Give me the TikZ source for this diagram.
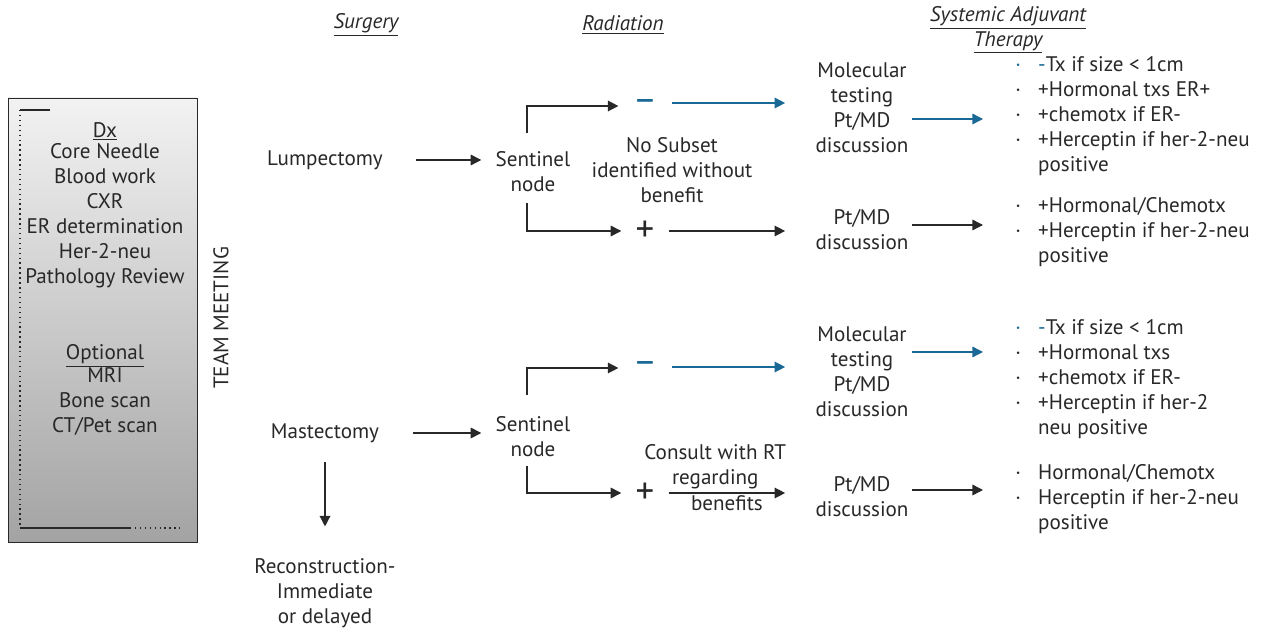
\documentclass[tikz,border=0pt]{standalone}
\usepackage{fontspec}
\setmainfont{PT Sans}
\usetikzlibrary{arrows.meta,calc}
\definecolor{ink}{RGB}{40,40,40}
\definecolor{tealblue}{RGB}{26,104,150}
\newcommand{\bul}{\makebox[13pt][l]{\textperiodcentered}}
\tikzset{
  txt/.style={font=\fontsize{12}{14.2}\selectfont, text=ink, align=center, inner sep=0pt},
  head/.style={txt, font=\fontsize{12}{14.2}\selectfont\itshape},
  lst/.style={txt, align=left, anchor=west},
  sign/.style={inner sep=0pt, text=ink, font=\fontsize{21}{21}\selectfont},
  arr/.style={draw=ink, line width=0.8pt, -{Triangle[length=6pt,width=6pt]}},
  barr/.style={arr, draw=tealblue}
}
\begin{document}
\begin{tikzpicture}[x=0.02cm, y=-0.02cm]
\useasboundingbox (0,0) rectangle (1262,631);
\shadedraw[draw=ink, top color=black!5, bottom color=black!36] (8,98) rectangle (197,542);
\draw[ink, line width=0.8pt] (50,110) -- (20,110);
\draw[ink, dotted, line width=0.8pt] (20,110) -- (20,528);
\draw[ink, line width=0.8pt] (20,528) -- (130,528);
\draw[ink, dotted, line width=0.8pt] (130,528) -- (180,528);
\node[txt] (dx) at (105,205) {\underline{Dx}\\[-2pt]Core Needle\\Blood work\\CXR\\ER determination\\Her-2-neu\\Pathology Review};
\node[txt] (opt) at (105,390) {\underline{Optional}\\[-1pt]MRI\\Bone scan\\CT/Pet scan};
\node[txt, rotate=90] (team) at (221,318) {TEAM MEETING};

\node[head] (surg) at (366,25) {\underline{Surgery}};
\node[head] (rad) at (623,25) {\underline{Radiation}};
\node[head] (sys) at (1008,30) {\underline{Systemic Adjuvant}\\\underline{Therapy}};

\node[txt] (lump) at (325,160) {Lumpectomy};
\node[txt] (mast) at (325,433) {Mastectomy};
\node[txt] (recon) at (325,593) {Reconstruction-\\Immediate\\or delayed};
\node[txt] (sn1) at (533,172) {Sentinel\\node};
\node[txt] (sn2) at (533,437) {Sentinel\\node};

\node[sign, text=tealblue] (neg1) at (645,106) {--};
\node[sign] (pos1) at (645,231) {+};
\node[sign, text=tealblue] (neg2) at (645,368) {--};
\node[sign] (pos2) at (645,493) {+};
\node[txt] (nosub) at (672,170) {No Subset\\identified without\\benefit};

\node[txt] (mol1) at (862,108) {Molecular\\testing\\Pt/MD\\discussion};
\node[txt] (pt1) at (862,230) {Pt/MD\\discussion};
\node[txt] (mol2) at (862,372) {Molecular\\testing\\Pt/MD\\discussion};
\node[txt] (pt2) at (862,497) {Pt/MD\\discussion};

\node[lst] (lst1) at (1015,116) {\textcolor{tealblue}{\bul-}Tx if size < 1cm\\\bul+Hormonal txs ER+\\\bul+chemotx if ER-\\\bul+Herceptin if her-2-neu\\\hspace*{13pt}positive};
\node[lst] (lst2) at (1015,232) {\bul+Hormonal/Chemotx\\\bul+Herceptin if her-2-neu\\\hspace*{13pt}positive};
\node[lst] (lst3) at (1015,379) {\textcolor{tealblue}{\bul-}Tx if size < 1cm\\\bul+Hormonal txs\\\bul+chemotx if ER-\\\bul+Herceptin if her-2\\\hspace*{13pt}neu positive};
\node[lst] (lst4) at (1015,499) {\bul Hormonal/Chemotx\\\bul Herceptin if her-2-neu\\\hspace*{13pt}positive};

\draw[arr, shorten <=19pt, shorten >=8pt] (lump.east) -- (lump.east -| sn1.west);
\draw[arr, shorten <=19pt, shorten >=8pt] (mast.east) -- (mast.east -| sn2.west);
\draw[arr, shorten <=11pt, shorten >=18pt] (mast.south) -- (recon.north);

\draw[arr, shorten >=8pt] ($(sn1.north)+(-6,-19)$) |- (neg1.west);
\draw[arr, shorten >=8pt] ($(sn1.south)+(-6,11)$) |- (pos1.west);
\draw[arr, shorten >=8pt] ($(sn2.north)+(-6,-22)$) |- (neg2.west);
\draw[arr, shorten >=8pt] ($(sn2.south)+(-6,9)$) |- (pos2.west);

\draw[barr] ($(neg1.east)+(14,-3)$) -- ($(neg1.east -| mol1.west)+(-30,-3)$);
\draw[arr] ($(pos1.east)+(14,0)$) -- ($(pos1.east -| pt1.west)+(-30,0)$);
\draw[barr] ($(neg2.east)+(14,-1)$) -- ($(neg2.east -| mol2.west)+(-30,-1)$);
\draw[arr] ($(pos2.east)+(14,0)$) -- ($(pos2.east -| pt2.west)+(-30,0)$)
  node[txt, pos=0.4, above=2pt, align=center] (consult) {Consult with RT\\regarding}
  node[txt, pos=0.5, below=1pt] (benef) {benefits};

\draw[barr] ($(mol1.east)+(3,11)$) -- ($(mol1.east -| lst1.west)+(-32,11)$);
\draw[arr] ($(pt1.east)+(3,-5)$) -- ($(pt1.east -| lst2.west)+(-32,-5)$);
\draw[barr] ($(mol2.east)+(3,-20)$) -- ($(mol2.east -| lst3.west)+(-32,-20)$);
\draw[arr] ($(pt2.east)+(3,-7)$) -- ($(pt2.east -| lst4.west)+(-32,-7)$);
\end{tikzpicture}
\end{document}
